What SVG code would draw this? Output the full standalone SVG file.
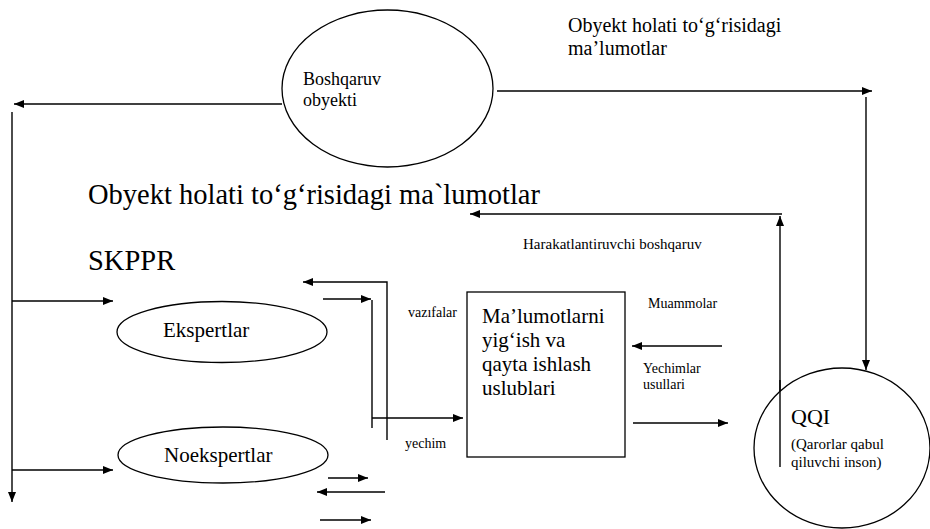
<svg xmlns="http://www.w3.org/2000/svg" width="930" height="529" viewBox="0 0 930 529">
<style>
text{font-family:"Liberation Serif","Times New Roman","DejaVu Serif",serif;fill:#000}
.n{fill:#fff;stroke:#000;stroke-width:1.3}
.c{fill:none;stroke:#000;stroke-width:1.4}
.big{font-size:28.5px}
.md{font-size:21px}
.sm{font-size:14px}
</style>
<defs>
<marker id="ah" viewBox="0 0 10 8" refX="10" refY="4" markerWidth="11" markerHeight="8" markerUnits="userSpaceOnUse" orient="auto">
<path d="M0,0 L10,4 L0,8 z" fill="#000"/>
</marker>
</defs>
<rect width="930" height="529" fill="#fff"/>
<g id="connectors">
<path class="c" d="M282,104 H14" marker-end="url(#ah)"/>
<path class="c" d="M12,112 V502" marker-end="url(#ah)"/>
<path class="c" d="M12,301 H113" marker-end="url(#ah)"/>
<path class="c" d="M12,470 H113" marker-end="url(#ah)"/>
<path class="c" d="M497,91 H872" marker-end="url(#ah)"/>
<path class="c" d="M866,97 V370" marker-end="url(#ah)"/>
<path class="c" d="M780,467 V216" marker-end="url(#ah)"/>
<path class="c" d="M782,214 H470" marker-end="url(#ah)"/>
<path class="c" d="M387,440 V282 H303" marker-end="url(#ah)"/>
<path class="c" d="M323,299 H371" marker-end="url(#ah)"/>
<path class="c" d="M372,300 V428"/>
<path class="c" d="M372,418 H463" marker-end="url(#ah)"/>
<path class="c" d="M722,346 H632" marker-end="url(#ah)"/>
<path class="c" d="M633,423 H728" marker-end="url(#ah)"/>
<path class="c" d="M328,478 H368" marker-end="url(#ah)"/>
<path class="c" d="M385,492 H317" marker-end="url(#ah)"/>
<path class="c" d="M320,520 H371" marker-end="url(#ah)"/>
</g>
<g id="boshqaruv">
<ellipse class="n" cx="387.5" cy="88.5" rx="105.5" ry="78.5"/>
<text x="303" y="85" font-size="18">Boshqaruv</text>
<text x="303" y="106" font-size="18">obyekti</text>
</g>
<g id="ekspertlar">
<ellipse class="n" cx="222" cy="332" rx="105" ry="30.5"/>
<text class="md" x="163" y="337">Ekspertlar</text>
</g>
<g id="noekspertlar">
<ellipse class="n" cx="223" cy="455" rx="105" ry="28"/>
<text class="md" x="164" y="462">Noekspertlar</text>
</g>
<g id="uslublar">
<rect class="n" x="467" y="292" width="158" height="165"/>
<text class="md" x="482" y="323">Ma’lumotlarni</text>
<text class="md" x="482" y="347">yig‘ish va</text>
<text class="md" x="482" y="371">qayta ishlash</text>
<text class="md" x="482" y="395">uslublari</text>
</g>
<g id="qqi">
<ellipse class="n" cx="842" cy="448" rx="88" ry="80"/>
<path class="c" d="M780,380 V467"/>
<text x="791" y="424" font-size="22">QQI</text>
<text x="791" y="449" font-size="15">(Qarorlar qabul</text>
<text x="791" y="467" font-size="15">qiluvchi inson)</text>
</g>
<g id="labels">
<text x="568" y="32" font-size="20">Obyekt holati to‘g‘risidagi</text>
<text x="568" y="55" font-size="20">ma’lumotlar</text>
<text class="big" x="88" y="204">Obyekt holati to‘g‘risidagi ma`lumotlar</text>
<text class="big" x="88" y="270">SKPPR</text>
<text x="523" y="249" font-size="15">Harakatlantiruvchi boshqaruv</text>
<text class="sm" x="408" y="317">vazıfalar</text>
<text class="sm" x="405" y="448">yechim</text>
<text class="sm" x="648" y="308">Muammolar</text>
<text class="sm" x="643" y="373">Yechimlar</text>
<text class="sm" x="643" y="389">usullari</text>
</g>
</svg>
